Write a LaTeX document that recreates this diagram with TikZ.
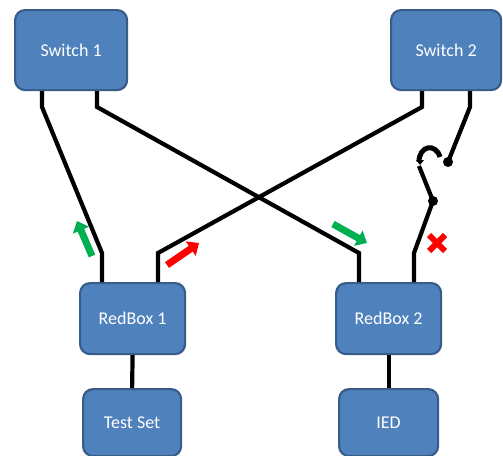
\documentclass[tikz,border=0pt]{standalone}
\usepackage{fontspec}
\setmainfont{Carlito}
\usetikzlibrary{arrows.meta,calc}
\definecolor{boxfill}{HTML}{4F81BD}
\definecolor{boxline}{HTML}{385D8A}
\definecolor{okgreen}{HTML}{00B050}
\tikzset{
  devbox/.style={draw=boxline, line width=2.2pt, fill=boxfill, rounded corners=10pt,
    text=white, font=\fontsize{18}{20}\selectfont, anchor=north west, inner sep=0pt},
  wire/.style={line width=4.2pt, black},
  goodarrow/.style={line width=7pt, okgreen, -{Triangle[length=10pt,width=17pt]}},
  badarrow/.style={line width=7pt, red, -{Triangle[length=10pt,width=17pt]}},
}
\begin{document}
\begin{tikzpicture}[x=1pt,y=-1pt]
\useasboundingbox (0,0) rectangle (503,455);
% boxes
\node[devbox, minimum width=112pt, minimum height=80pt] (sw1) at (14,9) {Switch 1};
\node[devbox, minimum width=110pt, minimum height=80pt] (sw2) at (390,9) {Switch 2};
\node[devbox, minimum width=105pt, minimum height=71pt] (rb1) at (79,282) {RedBox 1};
\node[devbox, minimum width=105pt, minimum height=71pt] (rb2) at (335,282) {RedBox 2};
\node[devbox, minimum width=98pt, minimum height=67pt] (ts) at (82,388) {Test Set};
\node[devbox, minimum width=99pt, minimum height=67pt] (ied) at (338,388) {IED};
% lead points
\coordinate (s1a) at (42,107);
\coordinate (s1b) at (97,107);
\coordinate (s2a) at (422,107);
\coordinate (s2b) at (470,107);
\coordinate (r1a) at (102,253);
\coordinate (r1b) at (158,253);
\coordinate (r2a) at (359,253);
\coordinate (r2b) at (414,253);
\coordinate (d1) at (448,162);
\coordinate (d2) at (433,201);
\coordinate (hk) at (419,166);
% wires
\draw[wire] (sw1.south west -| s1a) -- (s1a) -- (r1a) -- (rb1.north west -| r1a);
\draw[wire] (sw1.south west -| s1b) -- (s1b) -- (r2a) -- (rb2.north west -| r2a);
\draw[wire] (sw2.south west -| s2a) -- (s2a) -- (r1b) -- (rb1.north west -| r1b);
\draw[wire] (sw2.south west -| s2b) -- (s2b) -- (d1);
\draw[wire] (rb2.north west -| r2b) -- (r2b) -- (d2) -- (hk);
\draw[line width=5pt] (419,162) .. controls (419,145) and (436,143) .. (440,157);
\fill (416,160) -- (424,160) -- (420,165) -- cycle;
\fill (d1) circle (5pt);
\fill (d2) circle (5pt);
\draw[wire] (rb1.south) -- (ts.north);
\draw[wire] (rb2.south) -- (ied.north);
% arrows
\coordinate (g1s) at (92,256); \coordinate (g1e) at (77,221);
\coordinate (r1s) at (167,265); \coordinate (r1e) at (199,243);
\coordinate (g2s) at (333,224); \coordinate (g2e) at (367,243);
\draw[goodarrow] (g1s) -- (g1e);
\draw[badarrow] (r1s) -- (r1e);
\draw[goodarrow] (g2s) -- (g2e);
% red cross
\coordinate (xc) at (437,243);
\draw[red, line width=6pt] ($(xc)+(-8,-8)$) -- ($(xc)+(8,8)$) ($(xc)+(-8,8)$) -- ($(xc)+(8,-8)$);
\end{tikzpicture}
\end{document}
